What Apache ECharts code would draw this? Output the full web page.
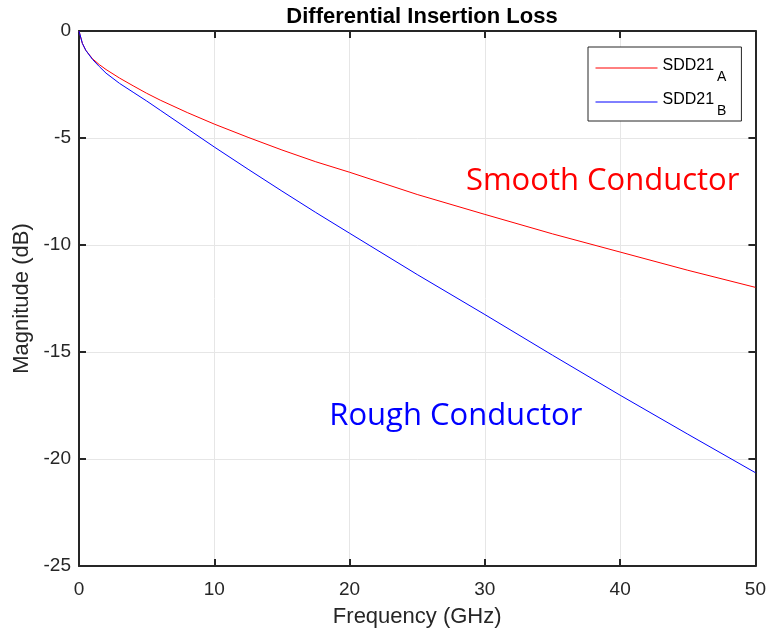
<!DOCTYPE html>
<html>
<head>
<meta charset="utf-8">
<script src="https://cdn.jsdelivr.net/npm/echarts@6/dist/echarts.min.js"></script>
<style>
html,body{margin:0;padding:0;background:#fff;}
#chart{width:769px;height:633px;}
</style>
</head>
<body>
<div id="chart"></div>
<script>
// Frequency (GHz)
var freq = [0, 0.25, 0.5, 1, 1.5, 2, 3, 4, 5, 6, 8, 10, 12.5, 15, 17.5, 20, 25, 30, 35, 40, 45, 50];
// SDD21_A (smooth conductor), dB
var sdd21A = [0, -0.58, -0.9, -1.3, -1.57, -1.8, -2.2, -2.56, -2.91, -3.23, -3.81, -4.35, -4.97, -5.56, -6.11, -6.6, -7.64, -8.57, -9.48, -10.33, -11.18, -11.98];
// SDD21_B (rough conductor), dB
var sdd21B = [0, -0.58, -0.9, -1.33, -1.66, -1.97, -2.45, -2.86, -3.27, -3.7, -4.56, -5.42, -6.46, -7.48, -8.48, -9.45, -11.38, -13.25, -15.15, -17.02, -18.84, -20.64];
var seriesNames = ['SDD21_A', 'SDD21_B'];
var xTicks = {min: 0, max: 50, interval: 10};
var yTicks = {min: -25, max: 0, interval: 5};
var annotations = [
  {text: 'Smooth Conductor', x: 28.6, y: -7.0, color: '#ff0000'},
  {text: 'Rough Conductor', x: 18.5, y: -18.0, color: '#0000ff'}
];

function pairs(xs, ys) { return xs.map(function (x, i) { return [x, ys[i]]; }); }

var axisColor = '#262626';
var gridColor = '#e6e6e6';
var font = 'Liberation Sans, Arial, sans-serif';

var chart = echarts.init(document.getElementById('chart'), null, {renderer: 'canvas'});
var option = {
  animation: false,
  backgroundColor: '#ffffff',
  title: {
    text: 'Differential Insertion Loss',
    left: 417, top: 1, textAlign: 'center',
    textStyle: {fontFamily: font, fontSize: 22, fontWeight: 'bold', color: '#000'}
  },
  grid: {left: 79, right: 13, top: 31, bottom: 67, containLabel: false},
  legend: {
    show: true,
    left: 588, top: 47,
    orient: 'vertical',
    padding: [11, 15, 3, 7],
    itemGap: 8,
    itemWidth: 62, itemHeight: 10,
    backgroundColor: '#fff',
    borderColor: axisColor, borderWidth: 1, borderRadius: 0,
    itemStyle: {opacity: 0},
    lineStyle: {width: 1},
    data: seriesNames,
    formatter: function (name) { var p = name.split('_'); return '{m|' + p[0] + '}{s|' + p[1] + '}'; },
    textStyle: {
      fontFamily: font, color: '#000',
      rich: {
        m: {fontFamily: font, fontSize: 16, lineHeight: 20, verticalAlign: 'top', color: '#000'},
        s: {fontFamily: font, fontSize: 14, lineHeight: 14, padding: [12, 0, 0, 3], verticalAlign: 'top', color: '#000'}
      }
    }
  },
  xAxis: [{
    type: 'value', position: 'bottom',
    min: xTicks.min, max: xTicks.max, interval: xTicks.interval,
    name: 'Frequency (GHz)', nameLocation: 'middle', nameGap: 40,
    nameTextStyle: {fontFamily: font, fontSize: 22, color: axisColor},
    axisLine: {show: true, onZero: false, lineStyle: {color: axisColor, width: 2}},
    axisTick: {show: true, inside: true, length: 7, lineStyle: {color: axisColor, width: 2}},
    axisLabel: {fontFamily: font, fontSize: 19, color: axisColor, margin: 14},
    splitLine: {show: true, lineStyle: {color: gridColor, width: 1}}
  }, {
    type: 'value', position: 'top',
    min: xTicks.min, max: xTicks.max, interval: xTicks.interval,
    axisLine: {show: true, onZero: false, lineStyle: {color: axisColor, width: 2}},
    axisTick: {show: true, inside: true, length: 7, lineStyle: {color: axisColor, width: 2}},
    axisLabel: {show: false},
    splitLine: {show: false}
  }],
  yAxis: [{
    type: 'value', position: 'left',
    min: yTicks.min, max: yTicks.max, interval: yTicks.interval,
    name: 'Magnitude (dB)', nameLocation: 'middle', nameGap: 46,
    nameTextStyle: {fontFamily: font, fontSize: 22, color: axisColor},
    axisLine: {show: true, onZero: false, lineStyle: {color: axisColor, width: 2}},
    axisTick: {show: true, inside: true, length: 7, lineStyle: {color: axisColor, width: 2}},
    axisLabel: {fontFamily: font, fontSize: 19, color: axisColor, margin: 8},
    splitLine: {show: true, lineStyle: {color: gridColor, width: 1}}
  }, {
    type: 'value', position: 'right',
    min: yTicks.min, max: yTicks.max, interval: yTicks.interval,
    axisLine: {show: true, onZero: false, lineStyle: {color: axisColor, width: 2}},
    axisTick: {show: true, inside: true, length: 7, lineStyle: {color: axisColor, width: 2}},
    axisLabel: {show: false},
    splitLine: {show: false}
  }],
  series: [{
    name: seriesNames[0], type: 'line', xAxisIndex: 0, yAxisIndex: 0,
    data: pairs(freq, sdd21A), showSymbol: false, symbol: 'none',
    lineStyle: {color: '#ff0000', width: 1}, itemStyle: {color: '#ff0000'}, z: 3
  }, {
    name: seriesNames[1], type: 'line', xAxisIndex: 0, yAxisIndex: 0,
    data: pairs(freq, sdd21B), showSymbol: false, symbol: 'none',
    lineStyle: {color: '#0000ff', width: 1}, itemStyle: {color: '#0000ff'}, z: 3
  }]
};
chart.setOption(option);

var g = annotations.map(function (a) {
  var p = chart.convertToPixel({xAxisIndex: 0, yAxisIndex: 0}, [a.x, a.y]);
  return {
    type: 'text', x: p[0], y: p[1], z: 10,
    style: {text: a.text, fill: a.color, font: '31px "Open Sans", sans-serif', textAlign: 'left', textVerticalAlign: 'middle'}
  };
});
chart.setOption({graphic: g});
</script>
</body>
</html>
